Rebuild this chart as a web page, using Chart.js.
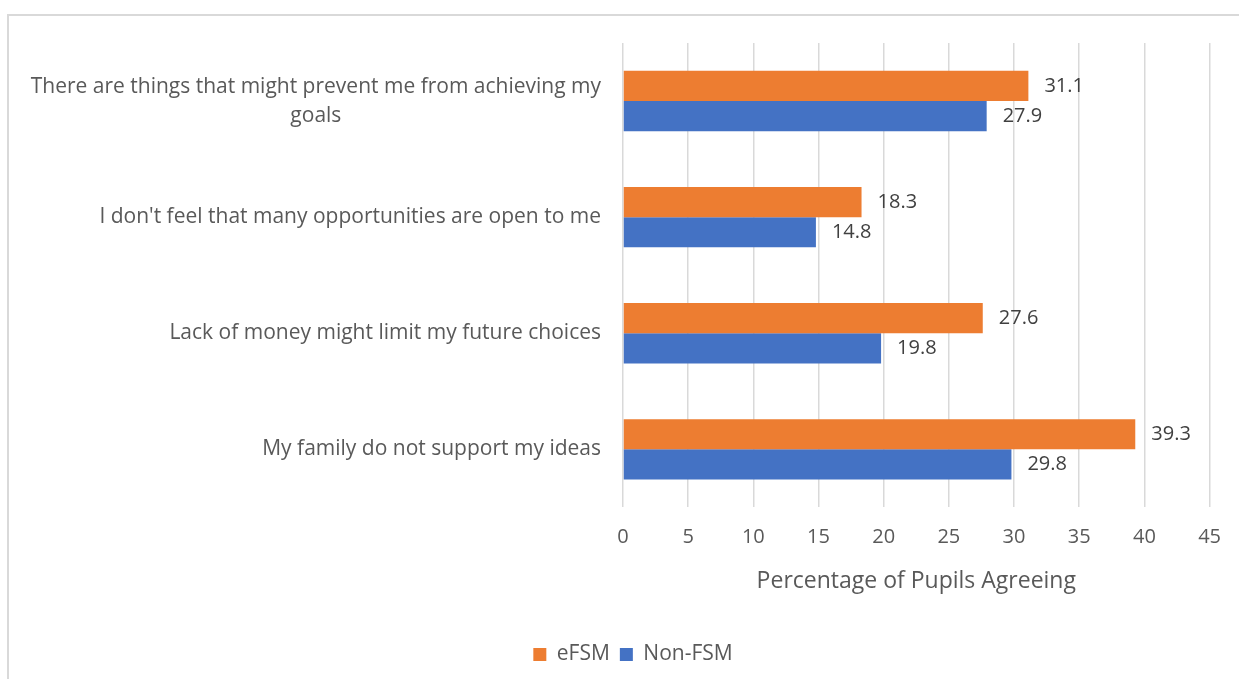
<!DOCTYPE html>
<html>
<head>
<meta charset="utf-8">
<script src="https://cdn.jsdelivr.net/npm/chart.js@4/dist/chart.umd.min.js"></script>
<style>
  html, body { margin: 0; padding: 0; background: #fff; overflow: hidden; }
  #frame { position: absolute; left: 7px; top: 14px; width: 1260px; height: 700px; border: 2px solid #d9d9d9; box-sizing: border-box; }
  #wrap { position: absolute; left: 0; top: 0; width: 1239px; height: 679px; }
</style>
</head>
<body>
<div id="frame"></div>
<div id="wrap"><canvas id="pupilsChart"></canvas></div>
<script>
const categories = [
  ['There are things that might prevent me from achieving my', 'goals'],
  ["I don't feel that many opportunities are open to me"],
  ['Lack of money might limit my future choices'],
  ['My family do not support my ideas']
]
const efsmValues = [31.1, 18.3, 27.6, 39.3]
const nonFsmValues = [27.9, 14.8, 19.8, 29.8]
const xTicks = [0, 5, 10, 15, 20, 25, 30, 35, 40, 45]

const FONT = "'Open Sans', sans-serif"
const TEXT = '#595959'

// draws the wrapped category labels, centred line by line, right edge next to the plot
const categoryLabels = {
  id: 'categoryLabels',
  afterDraw (chart) {
    const { ctx, scales: { y } } = chart
    ctx.save()
    ctx.font = '21px ' + FONT
    ctx.fillStyle = TEXT
    ctx.textAlign = 'center'
    ctx.textBaseline = 'middle'
    const right = chart.chartArea.left - 22
    const lineH = 29
    categories.forEach((lines, i) => {
      const cy = y.getPixelForValue(i)
      const maxW = Math.max(...lines.map(l => ctx.measureText(l).width))
      const cx = right - maxW / 2
      const top = cy - (lines.length - 1) * lineH / 2
      lines.forEach((l, j) => ctx.fillText(l, cx, top + j * lineH))
    })
    ctx.restore()
  }
}

// value labels just past the end of every bar
const valueLabels = {
  id: 'valueLabels',
  afterDatasetsDraw (chart) {
    const { ctx } = chart
    ctx.save()
    ctx.font = '20px ' + FONT
    ctx.fillStyle = '#404040'
    ctx.textAlign = 'left'
    ctx.textBaseline = 'middle'
    chart.data.datasets.forEach((ds, di) => {
      chart.getDatasetMeta(di).data.forEach((bar, i) => {
        ctx.fillText(ds.data[i].toFixed(1), bar.x + 16, bar.y)
      })
    })
    ctx.restore()
  }
}

new Chart('pupilsChart', {
  type: 'bar',
  data: {
    labels: categories.map(c => c.join(' ')),
    datasets: [
      { label: 'eFSM', data: efsmValues, backgroundColor: '#ED7D31' },
      { label: 'Non-FSM', data: nonFsmValues, backgroundColor: '#4472C4' }
    ]
  },
  options: {
    indexAxis: 'y',
    responsive: true,
    maintainAspectRatio: false,
    animation: false,
    categoryPercentage: 0.52,
    barPercentage: 1,
    layout: { padding: { left: 56, right: 29, top: 43, bottom: 4 } },
    scales: {
      x: {
        min: 0,
        max: 45,
        afterBuildTicks: scale => { scale.ticks = xTicks.map(v => ({ value: v })) },
        grid: { color: '#d9d9d9', lineWidth: 1.5, drawTicks: false },
        border: { display: false },
        ticks: { color: TEXT, font: { family: FONT, size: 20 }, padding: 18 },
        title: {
          display: true,
          text: 'Percentage of Pupils Agreeing',
          color: TEXT,
          font: { family: FONT, size: 23 },
          padding: { top: 0, bottom: 39 }
        }
      },
      y: {
        afterFit: scale => { scale.width = 567 },
        ticks: { display: false },
        grid: { display: false },
        border: { display: false }
      }
    },
    plugins: {
      legend: {
        position: 'bottom',
        labels: {
          color: TEXT,
          font: { family: FONT, size: 21 },
          boxWidth: 13,
          boxHeight: 13,
          padding: 10
        }
      },
      tooltip: { enabled: false }
    }
  },
  plugins: [categoryLabels, valueLabels]
})
</script>
</body>
</html>
